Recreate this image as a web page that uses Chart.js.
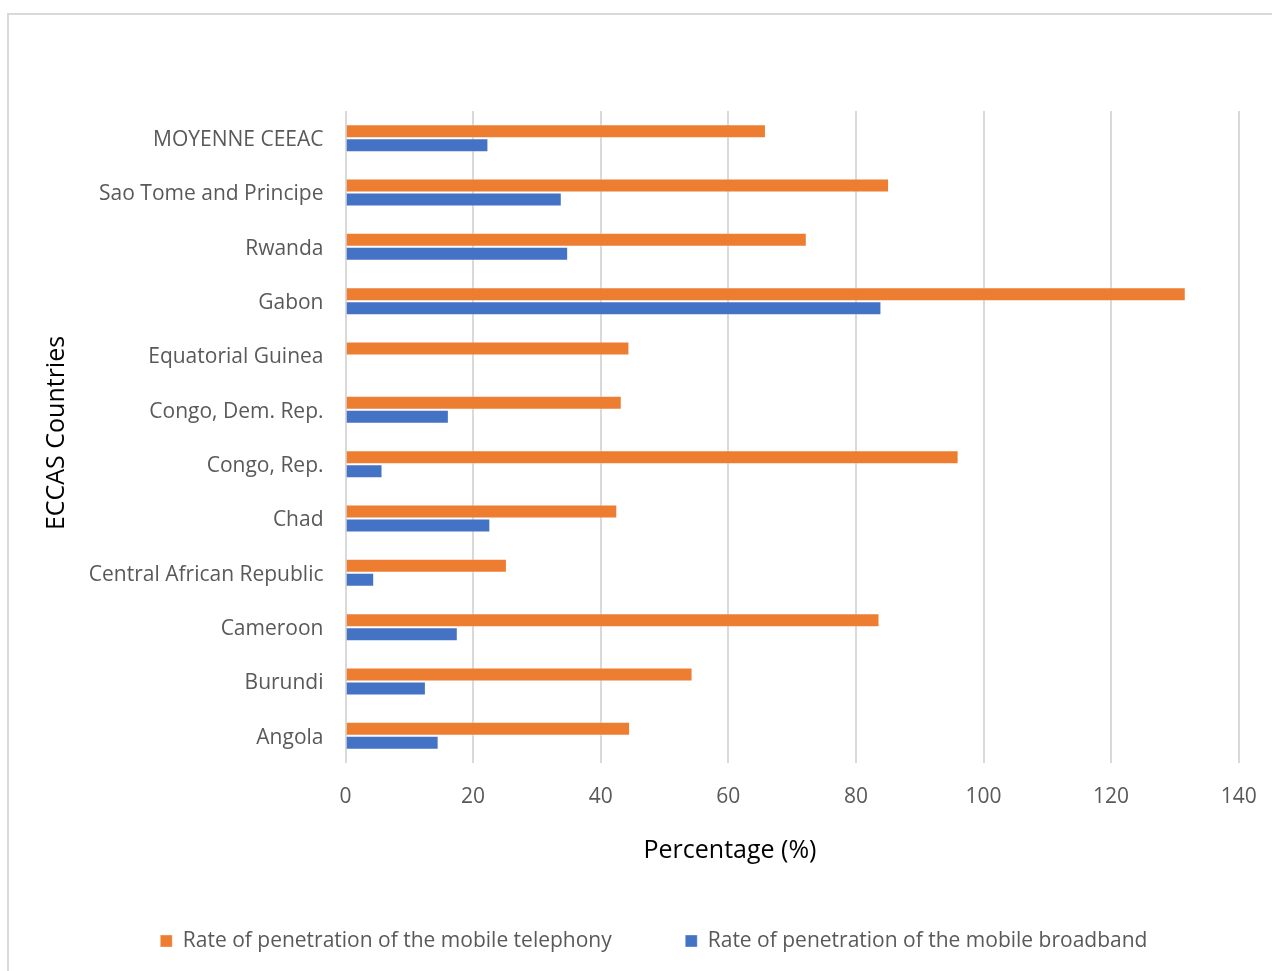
<!DOCTYPE html>
<html>
<head>
<meta charset="utf-8">
<script src="https://cdn.jsdelivr.net/npm/chart.js@4.4.1/dist/chart.umd.min.js"></script>
<style>
  html, body { margin: 0; padding: 0; background: #ffffff; overflow: hidden; }
  #frame { position: absolute; left: 7px; top: 13px; width: 1400px; height: 1100px; border: 2px solid #d9d9d9; box-sizing: border-box; }
  #wrap { position: absolute; left: 0; top: 0; width: 1290px; height: 971px; }
</style>
</head>
<body>
<div id="frame"></div>
<div id="wrap"><canvas id="c" width="1290" height="971"></canvas></div>
<script>
const categories = [
  "MOYENNE CEEAC",
  "Sao Tome and Principe",
  "Rwanda",
  "Gabon",
  "Equatorial Guinea",
  "Congo, Dem. Rep.",
  "Congo, Rep.",
  "Chad",
  "Central African Republic",
  "Cameroon",
  "Burundi",
  "Angola"
];
const telephony = [65.9, 85.2, 72.3, 131.7, 44.5, 43.3, 96.1, 42.6, 25.3, 83.7, 54.4, 44.6];
const broadband = [22.4, 33.9, 34.9, 84.0, null, 16.2, 5.8, 22.7, 4.5, 17.6, 12.6, 14.6];
const seriesNames = ["Rate of penetration of the mobile telephony", "Rate of penetration of the mobile broadband"];
const xTitle = "Percentage (%)";
const yTitle = "ECCAS Countries";

const FONT = "'Open Sans', 'Noto Sans', sans-serif";

const axisTitles = {
  id: 'axisTitles',
  afterDraw(chart) {
    const ctx = chart.ctx;
    ctx.save();
    ctx.fillStyle = '#000000';
    ctx.font = "25px " + FONT;
    ctx.textAlign = 'center';
    ctx.textBaseline = 'middle';
    ctx.fillText(xTitle, 730, 851);
    ctx.translate(57, 433);
    ctx.rotate(-Math.PI / 2);
    ctx.fillText(yTitle, 0, 0);
    ctx.restore();
  }
};

new Chart(document.getElementById('c'), {
  type: 'bar',
  data: {
    labels: categories,
    datasets: [
      {
        label: seriesNames[0],
        data: telephony,
        backgroundColor: '#ED7D31',
        borderColor: 'rgba(255,255,255,0.35)',
        borderWidth: 1,
        categoryPercentage: 0.515,
        barPercentage: 1.0
      },
      {
        label: seriesNames[1],
        data: broadband,
        backgroundColor: '#4472C4',
        borderColor: 'rgba(255,255,255,0.35)',
        borderWidth: 1,
        categoryPercentage: 0.515,
        barPercentage: 1.0
      }
    ]
  },
  options: {
    indexAxis: 'y',
    responsive: false,
    devicePixelRatio: 1,
    animation: false,
    layout: { padding: { left: 69, right: 51.3, top: 111, bottom: 9.5 } },
    plugins: {
      tooltip: { enabled: false },
      legend: {
        position: 'bottom',
        align: 'center',
        labels: {
          boxWidth: 12,
          boxHeight: 12,
          padding: 73.5,
          color: '#595959',
          font: { family: FONT, size: 21 }
        }
      }
    },
    scales: {
      x: {
        min: 0,
        max: 140,
        ticks: { stepSize: 20, color: '#595959', padding: 21, font: { family: FONT, size: 21 } },
        grid: { color: '#d9d9d9', lineWidth: 2, drawTicks: false },
        border: { display: false },
        afterFit(scale) { scale.height = 94; }
      },
      y: {
        ticks: { color: '#595959', padding: 22, labelOffset: 2, font: { family: FONT, size: 21 } },
        grid: { display: false, drawTicks: false },
        border: { display: false },
        afterFit(scale) { scale.width = 276.5; }
      }
    }
  },
  plugins: [axisTitles]
});
</script>
</body>
</html>
